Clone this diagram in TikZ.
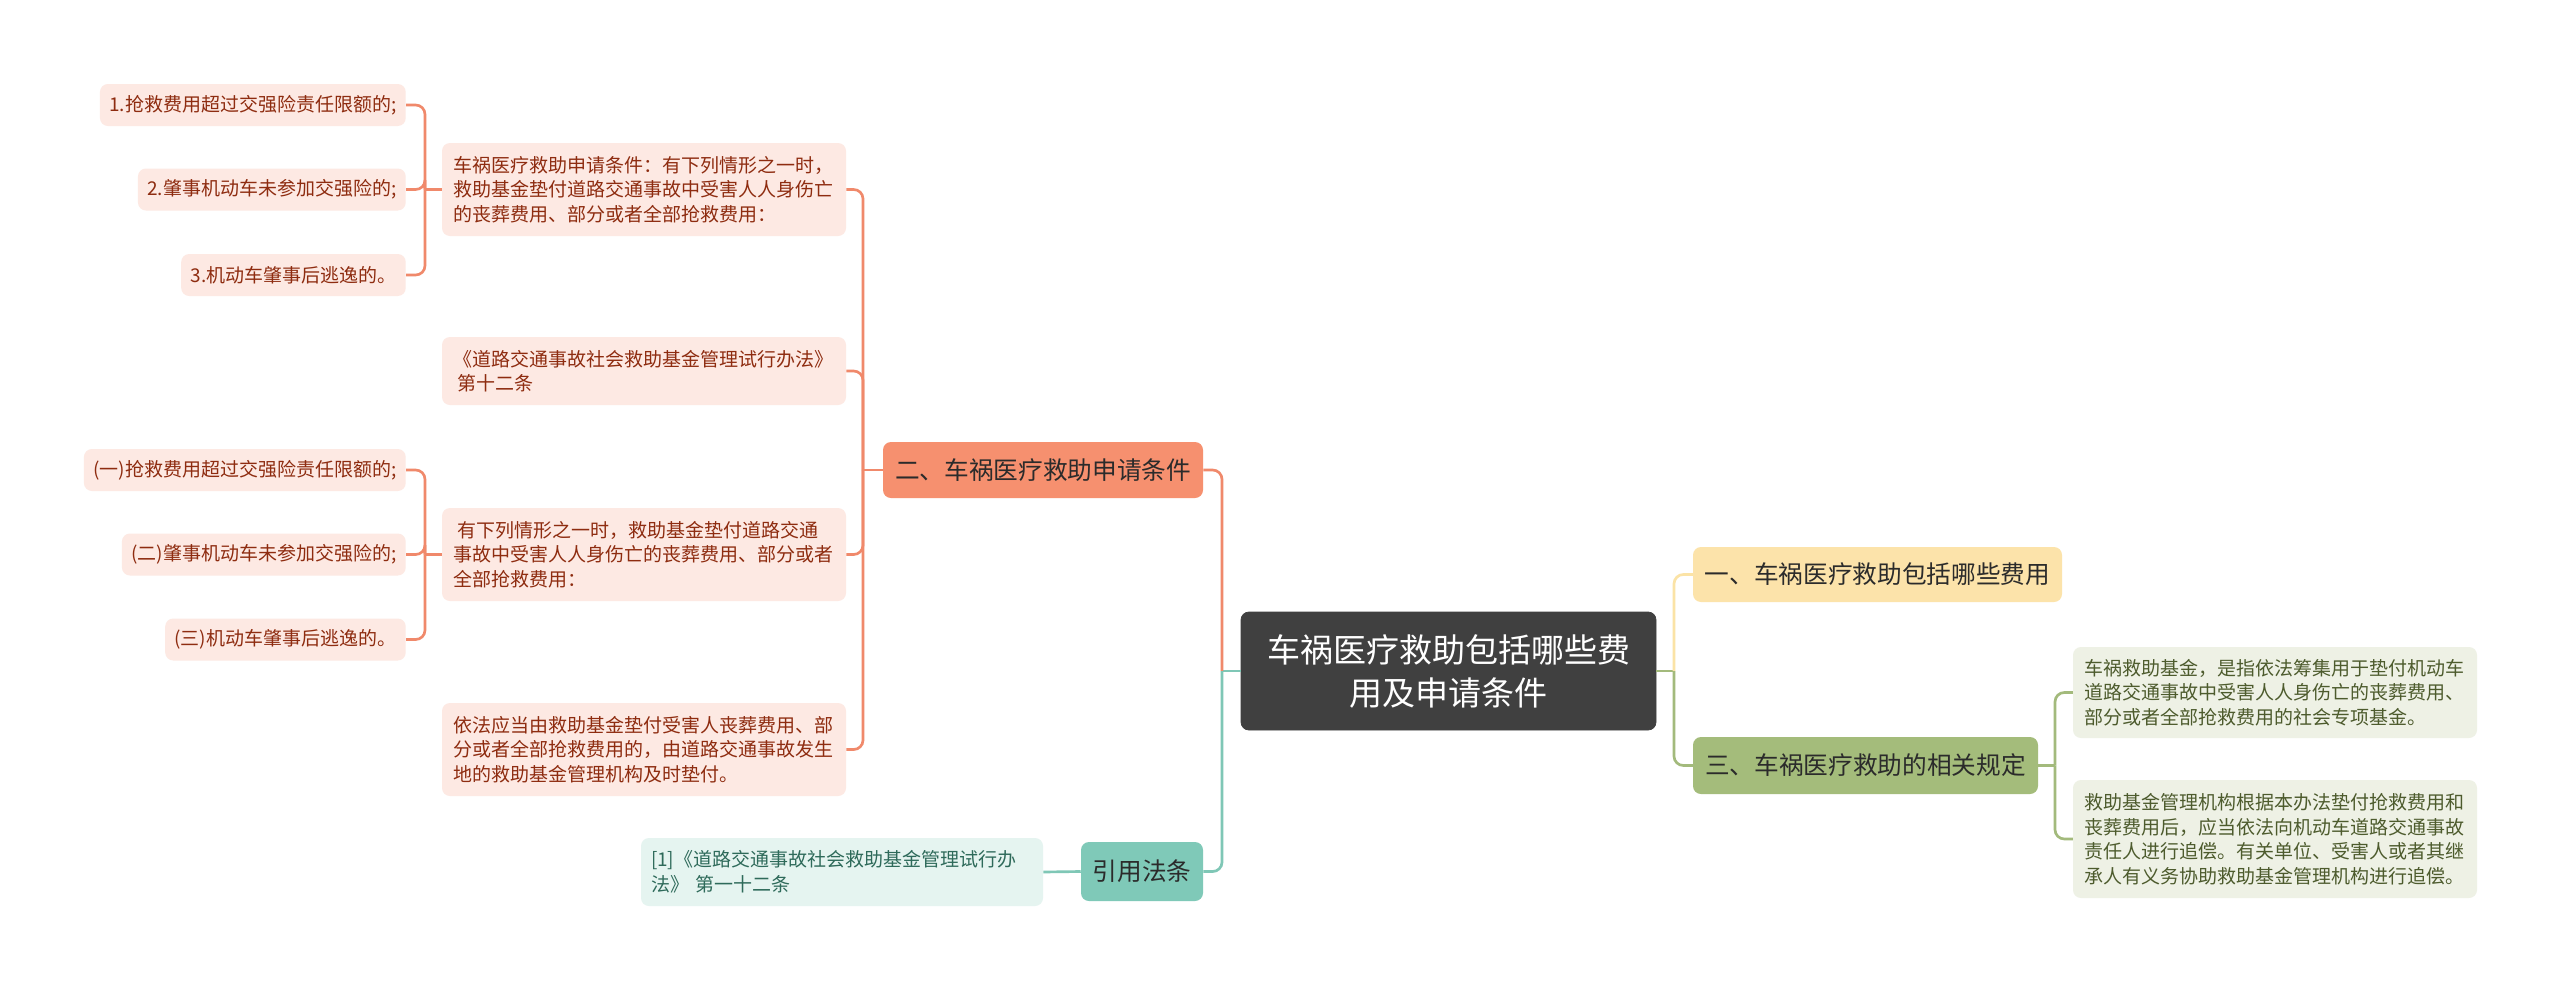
\documentclass[tikz,border=0pt]{standalone}
\usepackage{fontspec}
\setmainfont{Noto Sans CJK SC}
\definecolor{rootfill}{HTML}{404040}
\definecolor{salmon}{HTML}{F6906F}
\definecolor{salmonline}{HTML}{F0896B}
\definecolor{pinkleaf}{HTML}{FDE9E3}
\definecolor{pinktext}{HTML}{8E2C10}
\definecolor{yellowfill}{HTML}{FCE3AA}
\definecolor{yellowline}{HTML}{FBE3A6}
\definecolor{greenfill}{HTML}{A4BC7B}
\definecolor{greenline}{HTML}{A3BA7C}
\definecolor{greenleaf}{HTML}{EEF1E5}
\definecolor{greentext}{HTML}{4D5B2D}
\definecolor{tealfill}{HTML}{7FC9B8}
\definecolor{tealline}{HTML}{7FC7B6}
\definecolor{tealleaf}{HTML}{E5F4F0}
\definecolor{tealtext}{HTML}{2E6A5A}
\definecolor{darktext}{HTML}{2B2B2B}
\newcommand{\leaffont}{\fontsize{14.25pt}{18.4pt}\selectfont}
\newcommand{\branchfont}{\fontsize{18.5pt}{22pt}\selectfont}
\newcommand{\rootfont}{\fontsize{24.75pt}{32.25pt}\selectfont}
\begin{document}
\begin{tikzpicture}[x=0.75pt,y=-0.75pt,
  box/.style={rounded corners=6pt, inner ysep=0pt},
  rootbox/.style={box, fill=rootfill, draw=black!75, line width=0.6pt, text=white, font=\rootfont, align=center, minimum width=311.25pt, minimum height=88.5pt},
  branch/.style={box, font=\branchfont, text=darktext, inner xsep=0pt},
  leafbox/.style={box, font=\leaffont, align=left, text width=286.5pt, inner xsep=8.25pt},
  pinkleafbox/.style={leafbox, fill=pinkleaf, text=pinktext},
  greenleafbox/.style={leafbox, fill=greenleaf, text=greentext},
  smallleaf/.style={box, font=\leaffont, fill=pinkleaf, text=pinktext, inner xsep=7pt, minimum height=31.5pt, anchor=east},
  conn/.style={line width=2pt, rounded corners=7pt},
]
\fill[white] (0,0) rectangle (2560,989);
\useasboundingbox (0,0) rectangle (2560,989);

% nodes
\node[rootbox] (root) at (1448.5,671) {车祸医疗救助包括哪些费\\用及申请条件};
\node[branch, fill=salmon, minimum width=240pt, minimum height=42pt] (n2) at (1043,470) {二、车祸医疗救助申请条件};
\node[branch, fill=yellowfill, minimum width=276.75pt, minimum height=41.25pt] (n1) at (1877.5,574.5) {一、车祸医疗救助包括哪些费用};
\node[branch, fill=greenfill, minimum width=258.75pt, minimum height=42.75pt] (n3) at (1865.5,765.5) {三、车祸医疗救助的相关规定};
\node[branch, fill=tealfill, minimum width=91.5pt, minimum height=44.25pt] (ncite) at (1142,871.5) {引用法条};

\node[pinkleafbox, minimum height=69.75pt] (l2a) at (644,189.5) {车祸医疗救助申请条件：有下列情形之一时，\\救助基金垫付道路交通事故中受害人人身伤亡\\的丧葬费用、部分或者全部抢救费用：};
\node[pinkleafbox, minimum height=51pt] (l2b) at (644,371) {《道路交通事故社会救助基金管理试行办法》\\\hspace*{3.5pt}第十二条};
\node[pinkleafbox, minimum height=69.75pt] (l2c) at (644,554.5) {\hspace*{3.5pt}有下列情形之一时，救助基金垫付道路交通\\事故中受害人人身伤亡的丧葬费用、部分或者\\全部抢救费用：};
\node[pinkleafbox, minimum height=69.75pt] (l2d) at (644,749.5) {依法应当由救助基金垫付受害人丧葬费用、部\\分或者全部抢救费用的，由道路交通事故发生\\地的救助基金管理机构及时垫付。};

\node[smallleaf] (g1a) at (406,105) {1.抢救费用超过交强险责任限额的;};
\node[smallleaf] (g1b) at (406,189.5) {2.肇事机动车未参加交强险的;};
\node[smallleaf] (g1c) at (406,275) {3.机动车肇事后逃逸的。};
\node[smallleaf] (g2a) at (406,470) {(一)抢救费用超过交强险责任限额的;};
\node[smallleaf] (g2b) at (406,554.5) {(二)肇事机动车未参加交强险的;};
\node[smallleaf] (g2c) at (406,639.5) {(三)机动车肇事后逃逸的。};

\node[greenleafbox, minimum height=68.25pt] (r1) at (2275,692.5) {车祸救助基金，是指依法筹集用于垫付机动车\\道路交通事故中受害人人身伤亡的丧葬费用、\\部分或者全部抢救费用的社会专项基金。};
\node[greenleafbox, minimum height=88.5pt] (r2) at (2275,839) {救助基金管理机构根据本办法垫付抢救费用和\\丧葬费用后，应当依法向机动车道路交通事故\\责任人进行追偿。有关单位、受害人或者其继\\承人有义务协助救助基金管理机构进行追偿。};

\node[leafbox, fill=tealleaf, text=tealtext, inner xsep=7.5pt, minimum height=51pt] (cleaf) at (842,872) {[1]《道路交通事故社会救助基金管理试行办\\法》 第一十二条};

% junction coordinates
\coordinate (bL) at (1222,671);
\coordinate (bR) at (1674,671);
\coordinate (b2) at (863,470);
\coordinate (bg1) at (425,189.5);
\coordinate (bg2) at (425,554.5);
\coordinate (b3) at (2055,765.5);

% connectors
\draw[conn, tealline] (root.west) -- (bL);
\draw[conn, salmonline] (bL) |- (n2.east);
\draw[conn, tealline] (bL) |- (ncite.east);
\draw[conn, greenline] (root.east) -- (bR);
\draw[conn, yellowline] (bR) |- (n1.west);
\draw[conn, greenline] (bR) |- (n3.west);

\draw[conn, salmonline] (n2.west) -- (b2);
\draw[conn, salmonline] (b2) |- (l2a.east);
\draw[conn, salmonline] (b2) |- (l2b.east);
\draw[conn, salmonline] (b2) |- (l2c.east);
\draw[conn, salmonline] (b2) |- (l2d.east);

\draw[conn, salmonline] (l2a.west) -- (bg1);
\draw[conn, salmonline] (bg1) |- (g1a.east);
\draw[conn, salmonline] (bg1) |- (g1b.east);
\draw[conn, salmonline] (bg1) |- (g1c.east);

\draw[conn, salmonline] (l2c.west) -- (bg2);
\draw[conn, salmonline] (bg2) |- (g2a.east);
\draw[conn, salmonline] (bg2) |- (g2b.east);
\draw[conn, salmonline] (bg2) |- (g2c.east);

\draw[conn, greenline] (n3.east) -- (b3);
\draw[conn, greenline] (b3) |- (r1.west);
\draw[conn, greenline] (b3) |- (r2.west);

\draw[conn, tealline] (ncite.west) -- (cleaf.east);
\end{tikzpicture}
\end{document}
